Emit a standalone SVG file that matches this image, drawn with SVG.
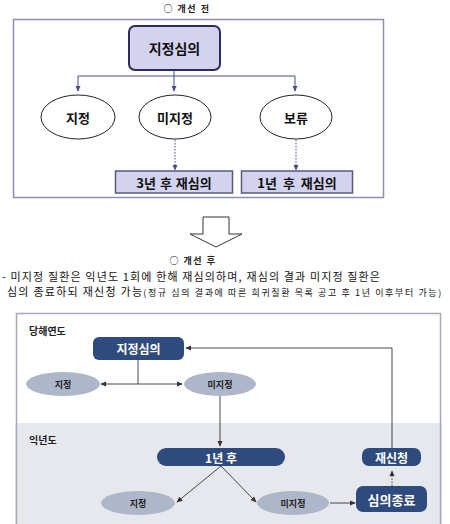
<svg xmlns="http://www.w3.org/2000/svg" width="450" height="524" viewBox="0 0 450 524">
<style>
text{font-family:"Noto Sans CJK KR","Noto Sans",sans-serif;font-weight:bold;text-anchor:middle;dominant-baseline:central}
.t1{font-size:13px;fill:#111}
.wt{fill:#fff;font-size:12px}
.sm{font-size:9px;fill:#222}
.hd{font-size:10px;fill:#222;text-anchor:start}
.ttl{font-size:9px;fill:#222;letter-spacing:1.5px}
.body{font-weight:normal;font-size:11px;fill:#111;text-anchor:start;dominant-baseline:auto}
.pn{fill:#d3d3ef;stroke:#2b2b5e;stroke-width:2}
.pb{fill:#d3d3ef;stroke:#5a5a7e;stroke-width:1.5}
.el{fill:#fff;stroke:#222;stroke-width:1}
.nv{fill:#2f4a7c}
.ge{fill:#aeb7ca}
.c1{fill:none;stroke:#4a4a8c;stroke-width:1}
.c2{fill:none;stroke:#333;stroke-width:0.9}
</style>
<defs>
<marker id="ab" viewBox="0 0 8 8" refX="7" refY="4" markerWidth="6" markerHeight="6" orient="auto" markerUnits="userSpaceOnUse"><path d="M0,0.5 L8,4 L0,7.5 Z" fill="#4a4a8c"/></marker>
<marker id="ag" viewBox="0 0 8 8" refX="7" refY="4" markerWidth="6" markerHeight="6" orient="auto" markerUnits="userSpaceOnUse"><path d="M0,0.5 L8,4 L0,7.5 Z" fill="#333"/></marker>
</defs>

<!-- top section frame -->
<text class="ttl" x="187" y="8">○ 개선 전</text>
<rect x="13.5" y="19.5" width="370" height="178" fill="#fff" stroke="#8e8eae" stroke-width="1.5"/>

<!-- block arrow -->
<path d="M203,217 H229 V234 H242 L216,247 L190,234 H203 Z" fill="#fff" stroke="#333" stroke-width="1"/>

<text class="ttl" x="193" y="260">○ 개선 후</text>
<text class="body" x="2" y="281" textLength="378" lengthAdjust="spacing">- 미지정 질환은 익년도 1회에 한해 재심의하며, 재심의 결과 미지정 질환은</text>
<text class="body" x="7" y="296"><tspan textLength="135" lengthAdjust="spacing">심의 종료하되 재신청 가능</tspan><tspan style="font-size:9px" textLength="298" lengthAdjust="spacing">(정규 심의 결과에 따른 희귀질환 목록 공고 후 1년 이후부터 가능)</tspan></text>

<!-- bottom section frame -->
<rect x="16.5" y="313.5" width="424" height="215" fill="#fff" stroke="#a8a8b8" stroke-width="1.5"/>
<rect x="17.3" y="423" width="422.5" height="102" fill="#e6e8ee"/>
<line x1="16.5" y1="423" x2="16.5" y2="524" stroke="#a8a8b8" stroke-width="1.5"/>
<line x1="440.5" y1="423" x2="440.5" y2="524" stroke="#a0a4c0" stroke-width="1.5"/>

<text class="hd" x="29" y="330">당해연도</text>
<text class="hd" x="29" y="439">익년도</text>

<g id="connectors">
<path class="c1" d="M174,70 V76 M78,76 H295" />
<path class="c1" d="M78,76 V91" marker-end="url(#ab)"/>
<path class="c1" d="M174,76 V91" marker-end="url(#ab)"/>
<path class="c1" d="M295,76 V91" marker-end="url(#ab)"/>
<path class="c1" d="M175,140 V170" stroke-dasharray="1.5,1.5" marker-end="url(#ab)"/>
<path class="c1" d="M296,140 V170" stroke-dasharray="1.5,1.5" marker-end="url(#ab)"/>

<path class="c2" d="M138,360 V384 M138,384 H101" marker-end="url(#ag)"/>
<path class="c2" d="M138,384 H182" marker-end="url(#ag)"/>
<path class="c2" d="M220,396 V446" marker-end="url(#ag)"/>
<path class="c2" d="M392,448 V348 H186" marker-end="url(#ag)"/>
<path class="c2" d="M221,466 L177,502" marker-end="url(#ag)"/>
<path class="c2" d="M221,466 L256,502" marker-end="url(#ag)"/>
<path class="c2" d="M330,503 H355" marker-end="url(#ag)"/>
<path class="c2" d="M392,486 V471" stroke-dasharray="1.5,1.5" marker-end="url(#ag)"/>
</g>

<g id="n_top_review"><rect class="pn" x="129" y="26" width="91" height="44" rx="6"/><text class="t1" x="174.5" y="48" style="font-size:14px">지정심의</text></g>
<g id="n_top_designated"><ellipse class="el" cx="78" cy="117" rx="37" ry="22"/><text class="t1" x="78" y="117">지정</text></g>
<g id="n_top_undesignated"><ellipse class="el" cx="175" cy="117" rx="36" ry="22"/><text class="t1" x="175" y="117">미지정</text></g>
<g id="n_top_hold"><ellipse class="el" cx="296" cy="117" rx="36" ry="22"/><text class="t1" x="296" y="117">보류</text></g>
<g id="n_top_3yr"><rect class="pb" x="115.5" y="171" width="117" height="22"/><text class="t1" x="174" y="182" style="word-spacing:1px">3년 후 재심의</text></g>
<g id="n_top_1yr"><rect class="pb" x="241.5" y="171" width="111" height="22"/><text class="t1" x="297" y="182" style="word-spacing:3px">1년 후 재심의</text></g>

<g id="n_review"><rect class="nv" x="93" y="337" width="91" height="23" rx="6"/><text class="wt" x="138.5" y="348.5">지정심의</text></g>
<g id="n_designated1"><ellipse class="ge" cx="63" cy="384" rx="37" ry="12"/><text class="sm" x="63" y="384">지정</text></g>
<g id="n_undesignated1"><ellipse class="ge" cx="220" cy="384" rx="36" ry="12"/><text class="sm" x="220" y="384">미지정</text></g>
<g id="n_1yr"><rect class="nv" x="157" y="448" width="128" height="18" rx="9"/><text class="wt" x="221" y="457">1년 후</text></g>
<g id="n_reapply"><rect class="nv" x="362" y="448" width="59" height="18" rx="7"/><text class="wt" x="391.5" y="457">재신청</text></g>
<g id="n_designated2"><ellipse class="ge" cx="138" cy="503" rx="37" ry="12"/><text class="sm" x="138" y="503">지정</text></g>
<g id="n_undesignated2"><ellipse class="ge" cx="293" cy="503" rx="36" ry="12"/><text class="sm" x="293" y="503">미지정</text></g>
<g id="n_end"><rect class="nv" x="356" y="486" width="71" height="26" rx="7"/><text class="wt" x="391.5" y="499" style="font-size:13px">심의종료</text></g>
</svg>
